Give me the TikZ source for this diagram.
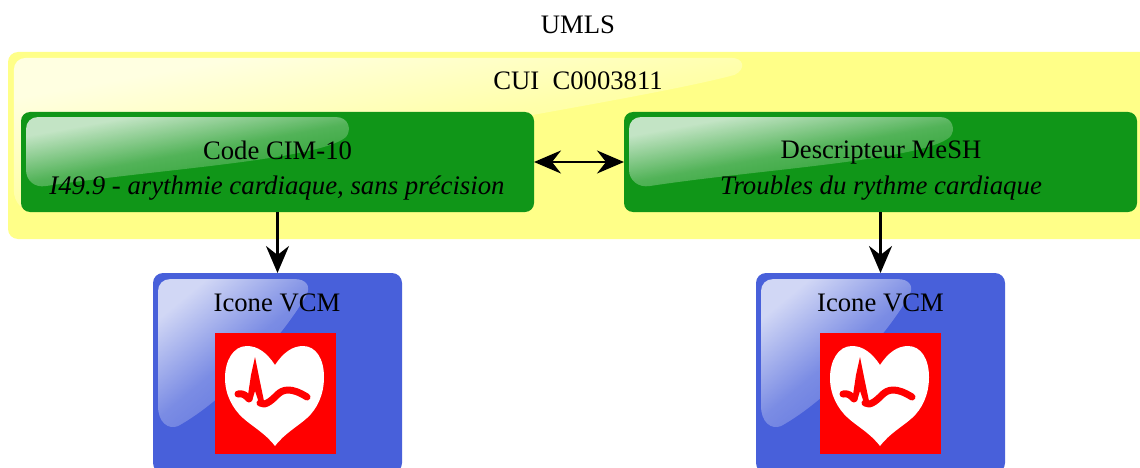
\documentclass[tikz,border=0pt]{standalone}
\usepackage{fontspec}
\setmainfont{Liberation Serif}
\usetikzlibrary{arrows.meta,fadings,shadings}
\definecolor{ylw}{RGB}{255,255,136}
\definecolor{grn}{RGB}{16,150,24}
\definecolor{blu}{RGB}{72,96,218}
\tikzfading[name=glossfade,top color=transparent!25,bottom color=transparent!90,middle color=transparent!72]
\tikzset{
  box/.style={rounded corners=#1,inner sep=0pt,outer sep=0pt,draw=none},
  lbl/.style={inner sep=0pt,anchor=base,font=\fontsize{26.67}{30}\selectfont,text=black},
  lbli/.style={lbl,font=\fontsize{26.8}{30}\selectfont\itshape},
  link/.style={line width=2.8pt,-{Stealth[length=27pt,width=23pt,inset=9pt]}},
  linkb/.style={line width=2.8pt,{Stealth[length=27pt,width=23pt,inset=9pt]}-{Stealth[length=27pt,width=23pt,inset=9pt]}},
  gloss/.style={fill=white,draw=none,path fading=glossfade,fading angle=40},
  hrt/.pic={
    \fill[red] (0,0) rectangle (121,121);
    \fill[white] (60,32) .. controls (52,20) and (43,13) .. (32,13)
      .. controls (18,13) and (10,28) .. (10,45)
      .. controls (10,62) and (18,76) .. (28,85)
      .. controls (38,94) and (50,100) .. (60,113)
      .. controls (70,100) and (82,94) .. (92,85)
      .. controls (102,76) and (109,62) .. (109,44)
      .. controls (109,26) and (101,13) .. (88,13)
      .. controls (77,13) and (68,20) .. (60,32) -- cycle;
    \fill[red] (33,62) -- (36,42) -- (40,24) -- (44,44) -- (49,68) -- (44,70) -- (40,58) -- (37,68) -- cycle;
    \draw[red,line width=7pt,line cap=round,line join=round]
      (23,61) .. controls (29,60) and (31,63) .. (34,66);
    \draw[red,line width=7pt,line cap=round,line join=round]
      (45,70) .. controls (50,74) and (58,66) .. (62,62)
      .. controls (68,56) and (76,54) .. (92,64);
  }
}
\begin{document}
\begin{tikzpicture}[x=1pt,y=-1pt]
\useasboundingbox (0,0) rectangle (1140,468);
% yellow group
\node[box=10pt,fill=ylw,minimum width=1232pt,minimum height=187pt] (cui) at (624,145.5) {};
\fill[gloss] (25,57) -- (733,57) .. controls (745,57) and (748,68) .. (736,74)
  .. controls (640,100) and (300,150) .. (40,210)
  .. controls (20,214) and (13,200) .. (13,190) -- (13,69)
  .. controls (13,62) and (18,57) .. (25,57) -- cycle;
% green boxes
\node[box=9pt,fill=grn,minimum width=513pt,minimum height=100pt] (cim) at (277.5,162) {};
\node[box=9pt,fill=grn,minimum width=513pt,minimum height=100pt] (mesh) at (880.5,162) {};
\fill[gloss] (38,117) -- (336,117) .. controls (349,117) and (352,130) .. (346,137)
  .. controls (320,160) and (150,170) .. (46,186)
  .. controls (34,188) and (26,180) .. (26,170) -- (26,129)
  .. controls (26,122) and (31,117) .. (38,117) -- cycle;
\fill[gloss] (641,117) -- (940,117) .. controls (953,117) and (956,130) .. (950,137)
  .. controls (924,160) and (754,170) .. (650,186)
  .. controls (638,188) and (629,180) .. (629,170) -- (629,129)
  .. controls (629,122) and (634,117) .. (641,117) -- cycle;
% blue boxes
\node[box=10pt,fill=blu,minimum width=249pt,minimum height=200pt] (vcma) at (277.5,373) {};
\node[box=10pt,fill=blu,minimum width=249pt,minimum height=200pt] (vcmb) at (880.5,373) {};
\fill[gloss] (170,279) -- (295,279) .. controls (305,279) and (312,285) .. (306,296)
  .. controls (280,340) and (225,400) .. (178,426)
  .. controls (168,430) and (158,422) .. (158,406) -- (158,291)
  .. controls (158,284) and (163,279) .. (170,279) -- cycle;
\fill[gloss] (773,279) -- (898,279) .. controls (908,279) and (915,285) .. (909,296)
  .. controls (883,340) and (828,400) .. (781,426)
  .. controls (771,430) and (761,422) .. (761,406) -- (761,291)
  .. controls (761,284) and (766,279) .. (773,279) -- cycle;
% icons
\pic at (215,333) {hrt};
\pic at (820,333) {hrt};
% labels
\node[lbl] (tumls) at (578,34) {UMLS};
\node[lbl] (tcui) at (578,90) {CUI\ \ C0003811};
\node[lbl] (tcim) at (277.5,159) {Code CIM-10};
\node[lbli] (dcim) at (277,194) {I49.9 - arythmie cardiaque, sans précision};
\node[lbl] (tmesh) at (881,158) {Descripteur MeSH};
\node[lbli] (dmesh) at (881,194) {Troubles du rythme cardiaque};
\node[lbl] (ta) at (277,311) {Icone VCM};
\node[lbl] (tb) at (880.5,311) {Icone VCM};
% connectors
\draw[link] (cim.south) -- (vcma.north);
\draw[link] (mesh.south) -- (vcmb.north);
\draw[linkb] (cim.east) -- (mesh.west);
\end{tikzpicture}
\end{document}
